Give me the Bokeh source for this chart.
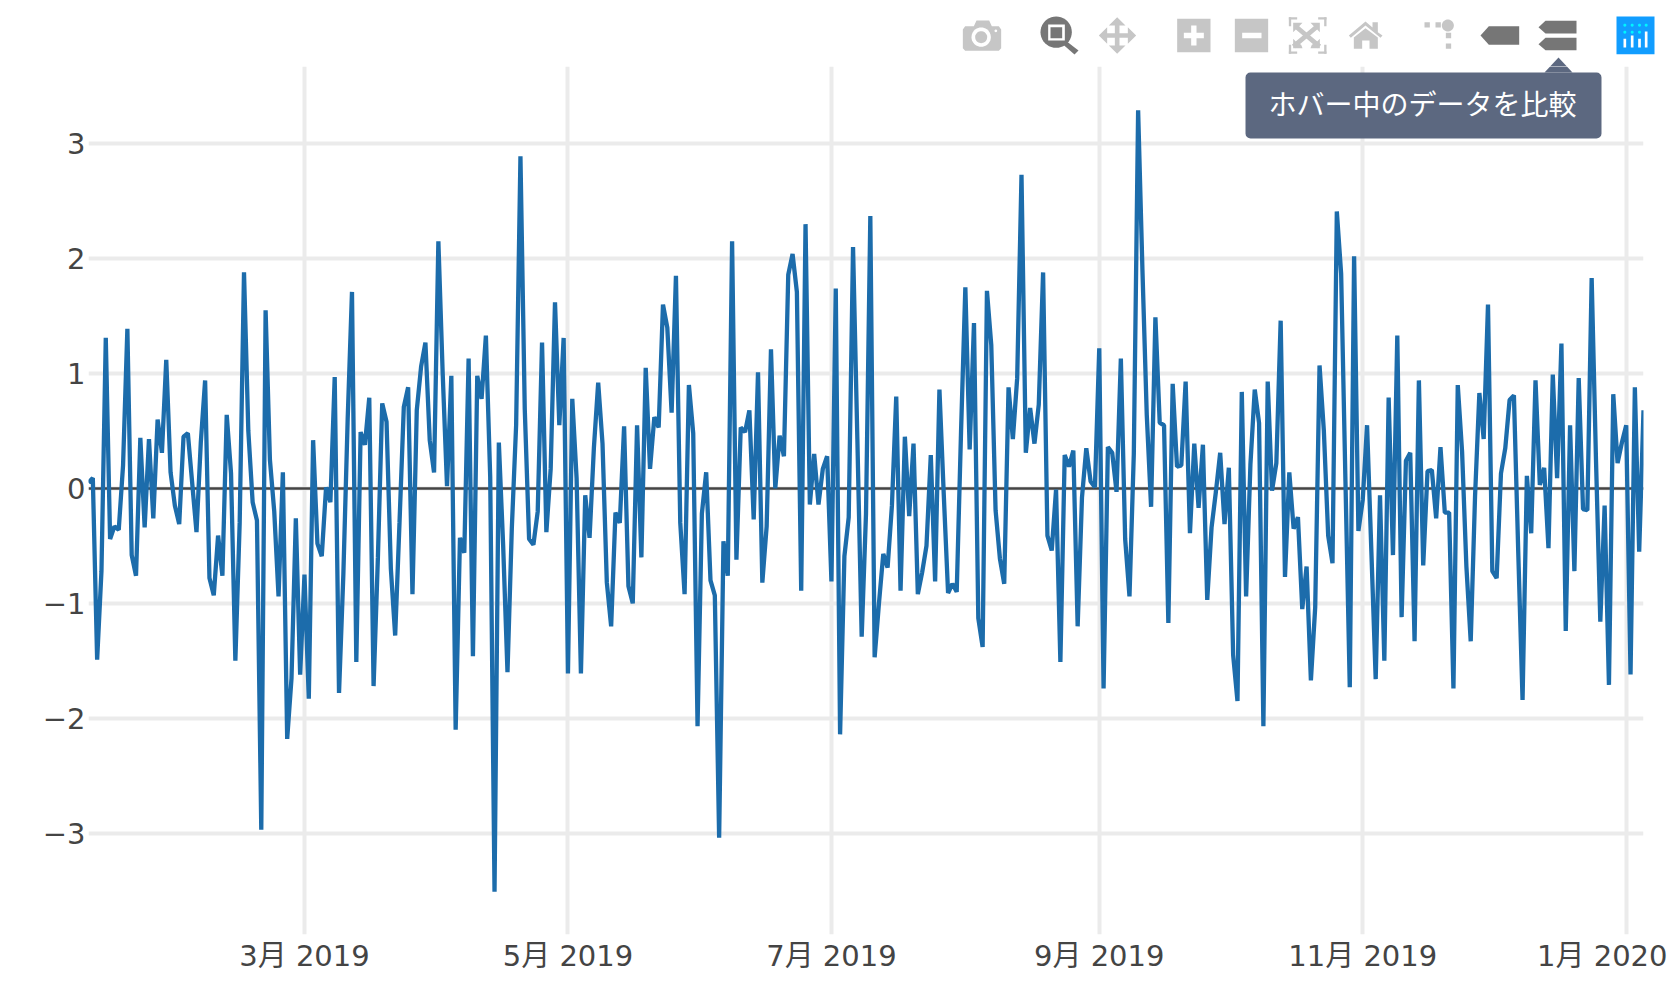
import numpy as np
import pandas as pd
from bokeh.embed import file_html
from bokeh.layouts import column, row
from bokeh.resources import INLINE
from bokeh.plotting import figure
from bokeh.models import (BoxAnnotation, FixedTicker, Label, PolyAnnotation, Range1d, Span)

# ---------- data ----------
start_date = "2019-01-10"
end_date = "2020-01-05"
values = [
    0.05, 0.09, -1.49, -0.72, 1.31, -0.44, -0.33, -0.36, 0.2, 1.39,
    -0.58, -0.76, 0.44, -0.34, 0.43, -0.26, 0.6, 0.31, 1.12, 0.14,
    -0.15, -0.31, 0.45, 0.48, 0.05, -0.38, 0.4, 0.94, -0.78, -0.93,
    -0.41, -0.76, 0.64, 0.13, -1.5, -0.3, 1.88, 0.5, -0.12, -0.28,
    -2.97, 1.55, 0.25, -0.2, -0.94, 0.14, -2.18, -1.65, -0.26, -1.62,
    -0.75, -1.83, 0.42, -0.48, -0.59, 0.01, -0.12, 0.97, -1.78, -0.75,
    0.6, 1.71, -1.51, 0.49, 0.38, 0.79, -1.72, -0.6, 0.74, 0.58,
    -0.7, -1.28, -0.3, 0.71, 0.88, -0.92, 0.68, 1.06, 1.27, 0.42,
    0.14, 2.15, 1.0, 0.02, 0.98, -2.1, -0.43, -0.56, 1.13, -1.46,
    0.98, 0.78, 1.33, 0.1, -3.51, 0.4, -0.5, -1.6, -0.35, 0.55,
    2.89, 0.69, -0.44, -0.49, -0.2, 1.27, -0.38, 0.17, 1.62, 0.55,
    1.31, -1.61, 0.78, 0.09, -1.61, -0.06, -0.43, 0.35, 0.92, 0.39,
    -0.82, -1.2, -0.21, -0.3, 0.54, -0.85, -1.0, 0.55, -0.6, 1.05,
    0.17, 0.62, 0.53, 1.6, 1.4, 0.66, 1.85, -0.3, -0.92, 0.9,
    0.48, -2.07, -0.22, 0.14, -0.8, -0.93, -3.04, -0.46, -0.76, 2.15,
    -0.62, 0.53, 0.49, 0.68, -0.27, 1.01, -0.82, -0.33, 1.21, 0.0,
    0.46, 0.28, 1.86, 2.04, 1.71, -0.89, 2.3, -0.14, 0.3, -0.14,
    0.17, 0.28, -0.81, 1.74, -2.14, -0.59, -0.25, 2.1, 0.43, -1.29,
    -0.22, 2.37, -1.47, -1.0, -0.57, -0.69, -0.15, 0.8, -0.89, 0.45,
    -0.24, 0.39, -0.92, -0.73, -0.5, 0.29, -0.81, 0.86, -0.05, -0.91,
    -0.83, -0.9, 0.49, 1.75, 0.34, 1.44, -1.13, -1.38, 1.72, 1.25,
    -0.19, -0.61, -0.83, 0.88, 0.43, 0.96, 2.73, 0.31, 0.7, 0.39,
    0.73, 1.88, -0.41, -0.54, -0.01, -1.51, 0.29, 0.19, 0.33, -1.2,
    -0.08, 0.35, 0.06, 0.01, 1.22, -1.74, 0.36, 0.31, -0.03, 1.13,
    -0.44, -0.94, 0.3, 3.29, 1.9, 0.64, -0.16, 1.49, 0.57, 0.55,
    -1.17, 0.91, 0.19, 0.2, 0.93, -0.39, 0.39, -0.17, 0.38, -0.97,
    -0.34, -0.03, 0.31, -0.31, 0.18, -1.45, -1.85, 0.84, -0.94, 0.21,
    0.86, 0.57, -2.07, 0.93, -0.02, 0.22, 1.46, -0.77, 0.14, -0.35,
    -0.25, -1.05, -0.68, -1.67, -1.03, 1.07, 0.5, -0.41, -0.65, 2.41,
    1.87, 0.06, -1.73, 2.02, -0.37, -0.1, 0.55, -0.55, -1.66, -0.06,
    -1.5, 0.79, -0.58, 1.33, -1.12, 0.24, 0.31, -1.33, 0.94, -0.67,
    0.15, 0.16, -0.26, 0.36, -0.21, -0.21, -1.74, 0.9, 0.32, -0.68,
    -1.33, -0.07, 0.83, 0.43, 1.6, -0.72, -0.78, 0.13, 0.35, 0.77,
    0.81, -0.55, -1.84, 0.11, -0.39, 0.94, 0.03, 0.18, -0.52, 0.99,
    0.09, 1.26, -1.24, 0.55, -0.72, 0.96, -0.18, -0.19, 1.83, 0.25,
    -1.16, -0.15, -1.71, 0.82, 0.22, 0.4, 0.55, -1.62, 0.88, -0.55,
    0.68,
]
x_tick_dates = ["2019-03-01", "2019-05-01", "2019-07-01", "2019-09-01", "2019-11-01", "2020-01-01"]
x_tick_labels = ["3月 2019", "5月 2019", "7月 2019", "9月 2019", "11月 2019", "1月 2020"]
y_ticks = [-3, -2, -1, 0, 1, 2, 3]
y_tick_labels = ["−3", "−2", "−1", "0", "1", "2", "3"]
tooltip_text = "ホバー中のデータを比較"

# ---------- styles ----------
FONT = '"DejaVu Sans", "Noto Sans CJK JP", sans-serif'
TICK_SIZE = "29px"
TICK_COLOR = "#444444"
GRID_COLOR = "#ebebeb"
LINE_COLOR = "#1c6cab"
LIGHT = "#c6c6c6"
DARK = "#767676"
TIP = "#5c6880"
STRIP_H = 66
TOTAL_W = 1667

def ms(d):
    return int(pd.Timestamp(d).timestamp() * 1000)

dates = pd.date_range(start_date, periods=len(values), freq="D")

p = figure(
    width=TOTAL_W, height=990 - STRIP_H, x_axis_type="datetime",
    x_range=Range1d(ms(start_date), ms(end_date)),
    y_range=Range1d(-3.882, 3.672),
    output_backend="svg", toolbar_location=None,
    min_border_left=88, min_border_right=24, min_border_top=0, min_border_bottom=56,
    outline_line_color=None, background_fill_color="white", border_fill_color="white",
)
p.xaxis.ticker = FixedTicker(ticks=[ms(d) for d in x_tick_dates])
p.xaxis.major_label_overrides = {ms(d): t for d, t in zip(x_tick_dates, x_tick_labels)}
p.yaxis.ticker = FixedTicker(ticks=y_ticks)
p.yaxis.major_label_overrides = dict(zip(y_ticks, y_tick_labels))
for ax in (p.xaxis[0], p.yaxis[0]):
    ax.axis_line_color = None
    ax.major_tick_line_color = None
    ax.minor_tick_line_color = None
    ax.major_tick_out = 0
    ax.major_label_text_font = FONT
    ax.major_label_text_font_size = TICK_SIZE
    ax.major_label_text_color = TICK_COLOR
p.xaxis.major_label_standoff = 4
p.yaxis.major_label_standoff = 3
p.grid.grid_line_color = GRID_COLOR
p.grid.grid_line_width = 4

p.add_layout(Span(location=0, dimension="width", line_color=TICK_COLOR, line_width=2.5, level="underlay"))
p.line(dates, values, line_color=LINE_COLOR, line_width=4.3, line_join="bevel")

# ---------- plot-tool strip above the chart ----------
s = figure(
    width=TOTAL_W, height=STRIP_H, x_range=Range1d(0, TOTAL_W), y_range=Range1d(STRIP_H, 0),
    output_backend="svg", toolbar_location=None, x_axis_location=None, y_axis_location=None,
    min_border=0, outline_line_color=None, background_fill_color="white", border_fill_color="white",
)
s.grid.visible = False

def poly(pts, color, ox, oy=5):
    s.patch([ox + a / 3 for a, _ in pts], [oy + b / 3 for _, b in pts],
            fill_color=color, line_color=None)

def rect(x0, x1, y0, y1, color, ox):
    poly([(x0, y0), (x1, y0), (x1, y1), (x0, y1)], color, ox)

def disc(cx, cy, r, color, ox):
    a = np.linspace(0, 2 * np.pi, 40, endpoint=False)
    poly(list(zip(cx + r * np.cos(a), cy + r * np.sin(a))), color, ox)

A, B = 950, 1300
# camera
poly([(37, 72), (44, 62), (70, 62), (78, 45), (116, 45), (124, 62), (145, 62), (152, 72),
      (152, 128), (145, 136), (44, 136), (37, 128)], LIGHT, A)
disc(92, 95, 29, "white", A)
disc(92, 95, 18, LIGHT, A)
disc(136, 76, 4, "white", A)
# zoom
poly([(345, 105), (384, 135), (372, 147), (335, 115)], DARK, A)
disc(317, 80, 47, DARK, A)
rect(293, 343, 57, 105, "white", A)
rect(300, 335, 65, 98, DARK, A)
# pan
poly([(500, 35), (525, 60), (507, 60), (507, 83), (532, 83), (532, 65), (557, 90), (532, 115),
      (532, 97), (507, 97), (507, 120), (525, 120), (500, 145), (475, 120), (493, 120),
      (493, 97), (470, 97), (470, 115), (445, 90), (470, 65), (470, 83), (493, 83), (493, 60),
      (475, 60)], LIGHT, A)
# zoom in
rect(680, 780, 40, 140, LIGHT, A)
rect(700, 760, 82, 98, "white", A)
rect(722, 738, 60, 120, "white", A)
# zoom out
rect(853, 953, 40, 140, LIGHT, A)
rect(875, 933, 82, 98, "white", A)
# autoscale
rect(1015, 1022, 35, 62, LIGHT, A)
rect(1015, 1040, 35, 42, LIGHT, A)
rect(1015, 1022, 118, 145, LIGHT, A)
rect(1015, 1040, 138, 145, LIGHT, A)
rect(71, 78, 35, 62, LIGHT, B)
rect(53, 78, 35, 42, LIGHT, B)
rect(71, 78, 118, 145, LIGHT, B)
rect(53, 78, 138, 145, LIGHT, B)
poly([(-22, 52), (6, 52), (-4, 62), (62, 118), (52, 128), (-14, 72), (-22, 80)], LIGHT, B)
poly([(58, 52), (30, 52), (40, 62), (-26, 118), (-16, 128), (50, 72), (58, 80)], LIGHT, B)
poly([(-22, 128), (-22, 100), (-12, 110), (2, 118), (6, 128)], LIGHT, B)
poly([(58, 128), (58, 100), (48, 110), (34, 118), (30, 128)], LIGHT, B)
# home
poly([(145, 90), (195, 48), (216, 66), (216, 50), (232, 50), (232, 80), (246, 90), (240, 97),
      (195, 60), (151, 97)], LIGHT, B)
poly([(160, 96), (195, 68), (232, 96), (232, 130), (207, 130), (207, 105), (185, 105), (185, 130), (160, 130)], LIGHT, B)
# spike lines
rect(372, 388, 50, 66, LIGHT, B)
rect(405, 421, 50, 66, LIGHT, B)
disc(442, 60, 18, LIGHT, B)
rect(436, 452, 82, 98, LIGHT, B)
rect(436, 452, 114, 130, LIGHT, B)
# closest
poly([(540, 90), (565, 62), (656, 62), (656, 118), (565, 118)], DARK, B)
# compare
poly([(714, 65), (735, 46), (828, 46), (828, 84), (735, 84)], DARK, B)
poly([(714, 116), (735, 97), (828, 97), (828, 134), (735, 134)], DARK, B)
# logo
rect(948, 1062, 33, 146, "#119dff", B)
for cx, top in ((973, 100), (995, 90), (1017, 100), (1037, 78)):
    rect(cx - 4, cx + 4, top, 126, "white", B)
for cx in (973, 995, 1017, 1037):
    disc(cx, 59, 4.5, "#00f5ff", B)
for cx in (973, 995, 1017):
    disc(cx, 80, 4.5, "#00f5ff", B)

# hint: its pointer straddles the strip and the chart
tip_xs = [1558, 1572, 1544]
tip_ys = [57, 72, 72]
s.patch(tip_xs, tip_ys, fill_color=TIP, line_color=None)
p.add_layout(PolyAnnotation(xs=tip_xs, ys=[v - STRIP_H for v in tip_ys],
                            xs_units="canvas", ys_units="canvas", fill_color=TIP, fill_alpha=1,
                            line_color=None, level="overlay"))
p.add_layout(BoxAnnotation(left=1245, right=1601, top=72 - STRIP_H, bottom=138 - STRIP_H,
                           left_units="canvas", right_units="canvas", top_units="canvas", bottom_units="canvas",
                           fill_color=TIP, fill_alpha=1, line_color=None, border_radius=5, level="overlay"))
p.add_layout(Label(x=1422, y=102 - STRIP_H, x_units="canvas", y_units="canvas", text=tooltip_text,
                   text_align="center", text_baseline="middle", text_color="white",
                   text_font='"Noto Sans CJK JP", sans-serif', text_font_size="28px", level="overlay"))

open("out.html", "w").write(file_html(column(row(s), p, spacing=0), INLINE))
